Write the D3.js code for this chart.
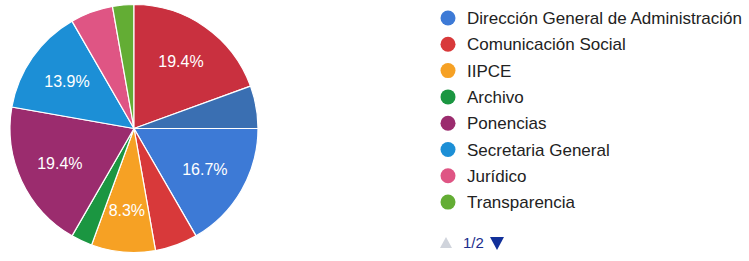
<!DOCTYPE html>
<html>
<head>
<meta charset="utf-8">
<script src="https://cdn.jsdelivr.net/npm/d3@7"></script>
<style>
  body { margin: 0; background: #fff; }
  text { font-family: Arial, "Liberation Sans", sans-serif; }
</style>
</head>
<body>
<svg id="chart" width="749" height="261"></svg>
<script>
// Data (categories 9 and 10 are on legend page 2, names not visible)
const categories = [
    "Dirección General de Administración",
    "Comunicación Social",
    "IIPCE",
    "Archivo",
    "Ponencias",
    "Secretaria General",
    "Jurídico",
    "Transparencia",
    "Categoría 9",
    "Categoría 10"
];
const counts = [6, 2, 3, 1, 7, 5, 2, 1, 7, 2];
const colors = ["#3d7ad6", "#d8393a", "#f6a124", "#1b9641", "#9b2c6e",
                "#1c8fd6", "#df5584", "#63ad34", "#c9303f", "#3a6fb2"];
const legendPageSize = 8;
const pageLabel = "1/2";

const svg = d3.select("#chart"),
    cx = 134, cy = 128.5, radius = 124;

const total = d3.sum(counts);
const data = categories.map((c, i) => ({ name: c, value: counts[i], color: colors[i] }));

const pie = d3.pie()
    .sort(null)
    .value(d => d.value)
    .startAngle(Math.PI / 2)
    .endAngle(Math.PI / 2 + 2 * Math.PI);

const arc = d3.arc().innerRadius(0).outerRadius(radius);
const labelArc = d3.arc().innerRadius(radius * 0.66).outerRadius(radius * 0.66);

const g = svg.append("g").attr("transform", `translate(${cx},${cy})`);

g.selectAll("path")
    .data(pie(data))
    .enter()
    .append("path")
    .attr("d", arc)
    .attr("fill", d => d.data.color)
    .attr("stroke", "#fff")
    .attr("stroke-width", 1.2);

// percentage labels only on the bigger slices
g.selectAll("text.pct")
    .data(pie(data).filter(d => d.data.value / total >= 0.08))
    .enter()
    .append("text")
    .attr("class", "pct")
    .attr("transform", d => `translate(${labelArc.centroid(d)})`)
    .attr("text-anchor", "middle")
    .attr("dy", "0.36em")
    .attr("fill", "#fff")
    .style("font-size", "16px")
    .text(d => (d.data.value / total * 100).toFixed(1) + "%");

// Legend (first page)
const legend = svg.append("g").attr("transform", "translate(448,18)");
const rowH = 26.3;
const items = legend.selectAll("g.item")
    .data(data.slice(0, legendPageSize))
    .enter()
    .append("g")
    .attr("class", "item")
    .attr("transform", (d, i) => `translate(0,${i * rowH})`);

items.append("circle")
    .attr("r", 7.5)
    .attr("fill", d => d.color);

items.append("text")
    .attr("x", 19)
    .attr("dy", "0.36em")
    .attr("fill", "#222")
    .style("font-size", "17px")
    .text(d => d.name);

// pager
const pager = svg.append("g").attr("transform", "translate(446,243)");
pager.append("path")
    .attr("d", "M0,-6 L6,5 L-6,5 Z")
    .attr("fill", "#d0d4dc");
pager.append("text")
    .attr("x", 17)
    .attr("dy", "0.36em")
    .attr("fill", "#1a2d8c")
    .style("font-size", "15px")
    .text(pageLabel);
pager.append("path")
    .attr("d", "M44,-6 L58,-6 L51,7 Z")
    .attr("fill", "#12309a");
</script>
</body>
</html>
